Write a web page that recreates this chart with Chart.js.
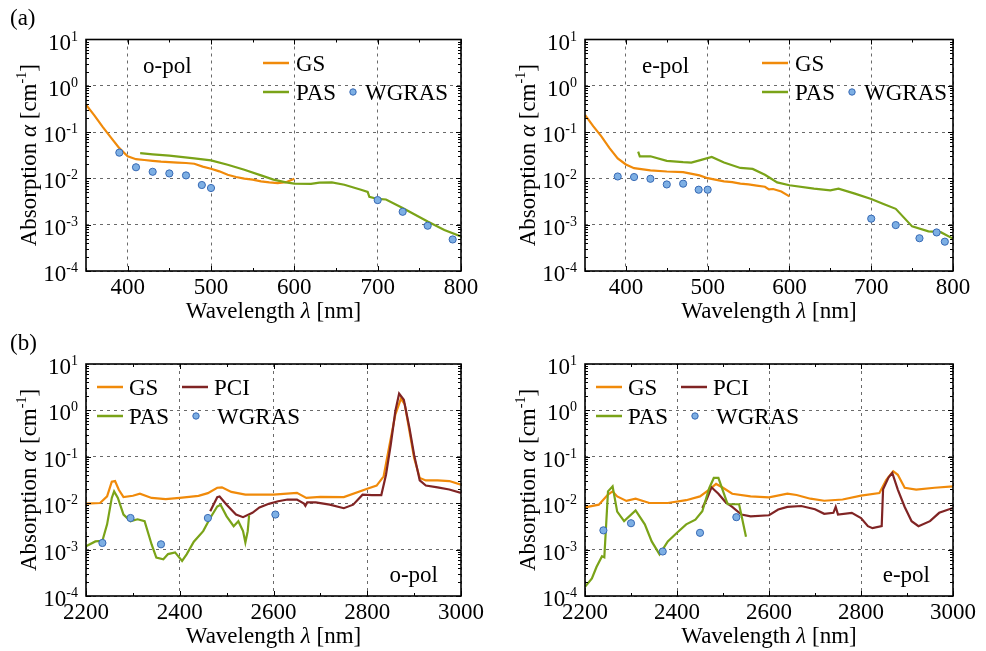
<!DOCTYPE html>
<html>
<head>
<meta charset="utf-8">
<script src="https://cdn.jsdelivr.net/npm/chart.js@4.4.1/dist/chart.umd.min.js"></script>
<style>
    body { margin: 0; background: #fff; }
    #wrap { position: relative; width: 986px; height: 651px; overflow: hidden; }
    .cell { position: absolute; }
</style>
</head>
<body>
<div id="wrap">
    <div class="cell" style="left:0;top:0"><canvas id="visO" width="493" height="325"></canvas></div>
    <div class="cell" style="left:493px;top:0"><canvas id="visE" width="493" height="325"></canvas></div>
    <div class="cell" style="left:0;top:325px"><canvas id="irO" width="493" height="326"></canvas></div>
    <div class="cell" style="left:493px;top:325px"><canvas id="irE" width="493" height="326"></canvas></div>
</div>
<script>
// wavelength [nm], absorption [cm^-1]
const gsVisO = [[350,0.39],[360,0.23],[370,0.13],[380,0.076],[390,0.045],[400,0.030],[410,0.026],[420,0.025],[430,0.024],[440,0.023],[450,0.0225],[460,0.022],[470,0.0215],[480,0.0207],[490,0.018],[500,0.0162],[510,0.0142],[520,0.012],[530,0.0107],[540,0.0099],[550,0.0094],[560,0.0086],[570,0.0082],[580,0.0079],[590,0.0083],[600,0.0098]];
const pasVisO = [[415,0.035],[430,0.033],[450,0.031],[480,0.027],[500,0.0245],[520,0.0197],[540,0.0154],[560,0.0116],[575,0.0094],[590,0.0082],[600,0.0077],[620,0.0076],[630,0.0081],[645,0.0082],[660,0.0073],[680,0.0057],[688,0.0051],[690,0.0040],[700,0.0036],[710,0.0035],[730,0.0023],[760,0.00117],[780,0.00077],[800,0.00056]];
const wgrasVisO = [[390,0.036],[410,0.0174],[430,0.0139],[450,0.0128],[470,0.0116],[489,0.0072],[500,0.0062],[700,0.0034],[730,0.0019],[760,0.00095],[790,0.00048]];

const gsVisE = [[350,0.235],[360,0.135],[370,0.081],[380,0.045],[390,0.027],[400,0.020],[410,0.0166],[430,0.0149],[450,0.0141],[470,0.0137],[490,0.0116],[500,0.0101],[520,0.0086],[530,0.0083],[540,0.0077],[550,0.0074],[560,0.0070],[570,0.0066],[575,0.0058],[580,0.0059],[590,0.0052],[600,0.0041]];
const pasVisE = [[415,0.038],[417,0.030],[430,0.030],[450,0.024],[470,0.0225],[480,0.022],[490,0.0245],[505,0.029],[520,0.022],[540,0.0168],[555,0.0160],[570,0.012],[585,0.0082],[600,0.0071],[630,0.0060],[650,0.0055],[660,0.0060],[680,0.0047],[700,0.0036],[715,0.0028],[730,0.0022],[750,0.00092],[770,0.00072],[785,0.00069],[800,0.00050]];
const wgrasVisE = [[390,0.011],[410,0.0107],[430,0.0098],[450,0.0074],[470,0.0077],[489,0.0057],[500,0.0057],[700,0.00135],[730,0.00098],[759,0.00051],[780,0.00068],[790,0.00043]];

const gsIrO = [[2200,0.0098],[2230,0.0101],[2245,0.014],[2255,0.029],[2262,0.030],[2270,0.0195],[2280,0.0135],[2300,0.0145],[2315,0.016],[2340,0.013],[2370,0.0122],[2400,0.013],[2440,0.0144],[2460,0.0165],[2480,0.0215],[2490,0.022],[2510,0.0175],[2540,0.0153],[2600,0.0153],[2650,0.0167],[2670,0.013],[2700,0.0137],[2750,0.0135],[2800,0.0205],[2820,0.024],[2835,0.038],[2845,0.132],[2860,0.82],[2872,1.8],[2880,1.35],[2890,0.36],[2900,0.094],[2912,0.035],[2925,0.031],[2950,0.031],[2975,0.030],[3000,0.025]];
const pciIrO = [[2465,0.0067],[2480,0.0135],[2485,0.014],[2500,0.0093],[2520,0.0057],[2535,0.005],[2555,0.0062],[2570,0.0081],[2590,0.0097],[2610,0.011],[2630,0.012],[2650,0.012],[2665,0.0098],[2668,0.0088],[2672,0.0104],[2690,0.0104],[2720,0.0093],[2750,0.0078],[2770,0.0093],[2790,0.0153],[2810,0.015],[2830,0.015],[2840,0.041],[2850,0.18],[2860,0.97],[2868,2.3],[2878,1.7],[2890,0.42],[2900,0.11],[2912,0.031],[2925,0.024],[2950,0.022],[2975,0.0197],[3000,0.0166]];
const pasIrO = [[2200,0.00118],[2220,0.0015],[2235,0.00155],[2245,0.0035],[2255,0.013],[2260,0.018],[2268,0.013],[2280,0.0057],[2295,0.0041],[2310,0.0045],[2325,0.0041],[2340,0.00129],[2350,0.00067],[2365,0.00062],[2375,0.0008],[2390,0.00087],[2405,0.00057],[2415,0.0008],[2430,0.00148],[2450,0.0025],[2465,0.0048],[2480,0.0085],[2487,0.0093],[2500,0.0052],[2515,0.0032],[2525,0.0041],[2535,0.0025],[2540,0.00142],[2545,0.0025],[2548,0.0055]];
const wgrasIrO = [[2235,0.00139],[2295,0.0048],[2360,0.0013],[2460,0.0048],[2604,0.0057]];

const gsIrE = [[2200,0.0081],[2230,0.0093],[2250,0.0154],[2260,0.018],[2270,0.014],[2290,0.0112],[2310,0.0125],[2340,0.0101],[2380,0.0101],[2420,0.0116],[2450,0.014],[2470,0.0197],[2485,0.026],[2500,0.0215],[2520,0.016],[2560,0.014],[2600,0.0134],[2640,0.016],[2660,0.015],[2690,0.0125],[2720,0.0113],[2760,0.012],[2800,0.0146],[2840,0.0166],[2855,0.032],[2870,0.049],[2880,0.041],[2895,0.0215],[2920,0.0197],[2960,0.0215],[3000,0.023]];
const pciIrE = [[2455,0.0079],[2465,0.0125],[2475,0.022],[2490,0.016],[2505,0.0107],[2520,0.0083],[2540,0.0057],[2560,0.0052],[2600,0.0055],[2620,0.0073],[2640,0.0083],[2670,0.0087],[2700,0.0074],[2720,0.0059],[2740,0.0062],[2745,0.0083],[2750,0.0057],[2780,0.0062],[2800,0.0048],[2815,0.0032],[2825,0.0029],[2845,0.0032],[2848,0.020],[2860,0.036],[2868,0.045],[2880,0.0197],[2895,0.0083],[2910,0.0041],[2925,0.0032],[2950,0.0041],[2970,0.0062],[3000,0.0079]];
const pasIrE = [[2200,0.000157],[2215,0.00024],[2225,0.00042],[2237,0.00072],[2242,0.00068],[2250,0.018],[2260,0.023],[2270,0.0066],[2285,0.0041],[2310,0.0070],[2330,0.0035],[2345,0.0015],[2362,0.00079],[2380,0.0015],[2400,0.0023],[2420,0.0035],[2440,0.0044],[2455,0.0067],[2470,0.021],[2480,0.035],[2490,0.035],[2510,0.0095],[2535,0.0095],[2550,0.0019]];
const wgrasIrE = [[2240,0.0026],[2300,0.0037],[2369,0.00091],[2450,0.0023],[2529,0.0050]];

const visTicks = [400, 500, 600, 700, 800];
const irTicks = [2200, 2400, 2600, 2800, 3000];
const decades = [1e-4, 1e-3, 1e-2, 1e-1, 1, 10];

const GS_COLOR = 'rgb(240,138,10)';
const PAS_COLOR = 'rgb(122,163,24)';
const PCI_COLOR = 'rgb(128,36,36)';
const DOT_FILL = 'rgb(125,175,228)';
const DOT_EDGE = 'rgb(55,105,180)';

const SERIF = '"Liberation Serif", "Times New Roman", serif';
const F22 = '23px ' + SERIF;
const F22I = 'italic 23px ' + SERIF;
const F14 = '14px ' + SERIF;

// draw a run of text pieces [text, font, dy]
function drawRich(ctx, parts, x, y, align) {
    let w = 0;
    parts.forEach(p => { ctx.font = p[1]; w += ctx.measureText(p[0]).width; });
    let cx = align === 'right' ? x - w : align === 'center' ? x - w / 2 : x;
    ctx.textAlign = 'left';
    parts.forEach(p => {
        ctx.font = p[1];
        ctx.fillText(p[0], cx, y + (p[2] || 0));
        cx += ctx.measureText(p[0]).width;
    });
}

const framePlugin = {
    id: 'frame',
    afterDraw(chart) {
        const o = chart.options.plugins.frame;
        const {ctx, chartArea: a, scales: {x, y}} = chart;
        ctx.save();
        ctx.strokeStyle = '#000';
        ctx.lineWidth = 1;
        ctx.beginPath();
        for (let e = -4; e < 1; e++) {
            for (let k = 1; k < 10; k++) {
                const py = Math.round(y.getPixelForValue(k * Math.pow(10, e))) + 0.5;
                const len = k === 1 ? 5 : 3;
                ctx.moveTo(a.left, py); ctx.lineTo(a.left + len, py);
                ctx.moveTo(a.right, py); ctx.lineTo(a.right - len, py);
            }
        }
        for (let v = o.minorFrom; v <= x.max; v += o.minorStep) {
            const px = Math.round(x.getPixelForValue(v)) + 0.5;
            const len = (v % (o.minorStep * 2) === 0) ? 5 : 3;
            ctx.moveTo(px, a.bottom); ctx.lineTo(px, a.bottom - len);
            ctx.moveTo(px, a.top); ctx.lineTo(px, a.top + len);
        }
        ctx.stroke();
        ctx.lineWidth = 1.6;
        ctx.strokeRect(a.left, a.top, a.right - a.left, a.bottom - a.top);

        ctx.fillStyle = '#000';
        ctx.textBaseline = 'alphabetic';
        // y tick labels 10^n
        decades.forEach(v => {
            const py = y.getPixelForValue(v);
            drawRich(ctx, [['10', F22], [String(Math.round(Math.log10(v))), F14, -9]], a.left - 8, py + 10, 'right');
        });
        // axis titles
        drawRich(ctx, [['Wavelength ', F22], ['λ', F22I], [' [nm]', F22]], (a.left + a.right) / 2, a.bottom + 47, 'center');
        ctx.save();
        ctx.translate(a.left - 50, (a.top + a.bottom) / 2);
        ctx.rotate(-Math.PI / 2);
        drawRich(ctx, [['Absorption ', F22], ['α', F22I], [' [cm', F22], ['-1', F14, -10], [']', F22]], 0, 0, 'center');
        ctx.restore();

        // legend
        o.legend.forEach(it => {
            const ly = a.top + it.dy;
            if (it.dot) {
                ctx.beginPath();
                ctx.arc(a.left + it.dx, ly, 3.2, 0, Math.PI * 2);
                ctx.fillStyle = DOT_FILL; ctx.fill();
                ctx.lineWidth = 1; ctx.strokeStyle = DOT_EDGE; ctx.stroke();
            } else {
                ctx.beginPath();
                ctx.moveTo(a.left + it.dx, ly); ctx.lineTo(a.left + it.dx + 26, ly);
                ctx.lineWidth = 2.5; ctx.strokeStyle = it.color; ctx.stroke();
            }
            ctx.fillStyle = '#000';
            ctx.font = F22;
            ctx.textAlign = 'left';
            ctx.fillText(it.label, a.left + it.tx, ly + 8);
        });

        // polarisation label and panel letter
        ctx.font = F22;
        if (o.polBottom) {
            ctx.textAlign = 'right';
            ctx.fillText(o.pol, a.right - 23, a.bottom - 14);
        } else {
            ctx.textAlign = 'left';
            ctx.fillText(o.pol, a.left + 57, a.top + 33.5);
        }
        if (o.letter) {
            ctx.textAlign = 'left';
            ctx.fillText(o.letter, 10, 25);
        }
        ctx.restore();
    }
};

function lineSet(label, pts, color, order) {
    return {
        label: label,
        data: pts.map(p => ({x: p[0], y: p[1]})),
        borderColor: color,
        borderWidth: 2.2,
        pointRadius: 0,
        tension: 0,
        fill: false,
        order: order
    };
}

function dotSet(pts) {
    return {
        label: 'WGRAS',
        data: pts.map(p => ({x: p[0], y: p[1]})),
        showLine: false,
        pointRadius: 3.6,
        pointBackgroundColor: DOT_FILL,
        pointBorderColor: DOT_EDGE,
        pointBorderWidth: 1,
        order: 0
    };
}

const visLegend = [
    {label: 'GS', color: GS_COLOR, dx: 177, tx: 210, dy: 23.5},
    {label: 'PAS', color: PAS_COLOR, dx: 177, tx: 210, dy: 52.5},
    {label: 'WGRAS', dot: true, dx: 267, tx: 279, dy: 52.5}
];
const irLegend = [
    {label: 'GS', color: GS_COLOR, dx: 11, tx: 43, dy: 23},
    {label: 'PCI', color: PCI_COLOR, dx: 96, tx: 128, dy: 23},
    {label: 'PAS', color: PAS_COLOR, dx: 11, tx: 43, dy: 52},
    {label: 'WGRAS', dot: true, dx: 110, tx: 131, dy: 52}
];

function makePanel(id, p) {
    const grid = {color: '#6a6a6a', lineWidth: 1, drawTicks: false};
    new Chart(document.getElementById(id), {
        type: 'line',
        data: {datasets: p.datasets},
        options: {
            responsive: false,
            animation: false,
            layout: {padding: {top: p.padTop, right: p.padRight, left: 0, bottom: 0}},
            scales: {
                x: {
                    type: 'linear',
                    min: p.xMin,
                    max: p.xMax,
                    afterBuildTicks: s => { s.ticks = p.xTicks.map(v => ({value: v})); },
                    afterFit: s => { s.height = p.xHeight; },
                    ticks: {
                        font: {family: SERIF, size: 23},
                        color: '#000',
                        padding: 3,
                        maxRotation: 0,
                        autoSkip: false,
                        callback: v => String(v)
                    },
                    grid: grid,
                    border: {display: false, dash: [3, 4]}
                },
                y: {
                    type: 'logarithmic',
                    min: 1e-4,
                    max: 10,
                    afterBuildTicks: s => { s.ticks = decades.map(v => ({value: v})); },
                    afterFit: s => { s.width = p.yWidth; },
                    ticks: {display: false},
                    grid: grid,
                    border: {display: false, dash: [3, 4]}
                }
            },
            plugins: {
                legend: {display: false},
                tooltip: {enabled: false},
                frame: {
                    minorFrom: p.minorFrom, minorStep: p.minorStep,
                    legend: p.legend, pol: p.pol, polBottom: p.polBottom, letter: p.letter
                }
            }
        },
        plugins: [framePlugin]
    });
}

makePanel('visO', {
    datasets: [dotSet(wgrasVisO), lineSet('PAS', pasVisO, PAS_COLOR, 1), lineSet('GS', gsVisO, GS_COLOR, 2)],
    xMin: 350, xMax: 800, xTicks: visTicks, minorFrom: 350, minorStep: 50,
    padTop: 39.5, padRight: 32, yWidth: 86, xHeight: 54,
    legend: visLegend, pol: 'o-pol', polBottom: false, letter: '(a)'
});
makePanel('visE', {
    datasets: [dotSet(wgrasVisE), lineSet('PAS', pasVisE, PAS_COLOR, 1), lineSet('GS', gsVisE, GS_COLOR, 2)],
    xMin: 350, xMax: 800, xTicks: visTicks, minorFrom: 350, minorStep: 50,
    padTop: 39.5, padRight: 33, yWidth: 92, xHeight: 54,
    legend: visLegend, pol: 'e-pol', polBottom: false
});
makePanel('irO', {
    datasets: [dotSet(wgrasIrO), lineSet('PAS', pasIrO, PAS_COLOR, 1), lineSet('PCI', pciIrO, PCI_COLOR, 2), lineSet('GS', gsIrO, GS_COLOR, 3)],
    xMin: 2200, xMax: 3000, xTicks: irTicks, minorFrom: 2200, minorStep: 100,
    padTop: 39, padRight: 32, yWidth: 86, xHeight: 55,
    legend: irLegend, pol: 'o-pol', polBottom: true, letter: '(b)'
});
makePanel('irE', {
    datasets: [dotSet(wgrasIrE), lineSet('PAS', pasIrE, PAS_COLOR, 1), lineSet('PCI', pciIrE, PCI_COLOR, 2), lineSet('GS', gsIrE, GS_COLOR, 3)],
    xMin: 2200, xMax: 3000, xTicks: irTicks, minorFrom: 2200, minorStep: 100,
    padTop: 39, padRight: 33, yWidth: 92, xHeight: 55,
    legend: irLegend, pol: 'e-pol', polBottom: true
});
</script>
</body>
</html>
